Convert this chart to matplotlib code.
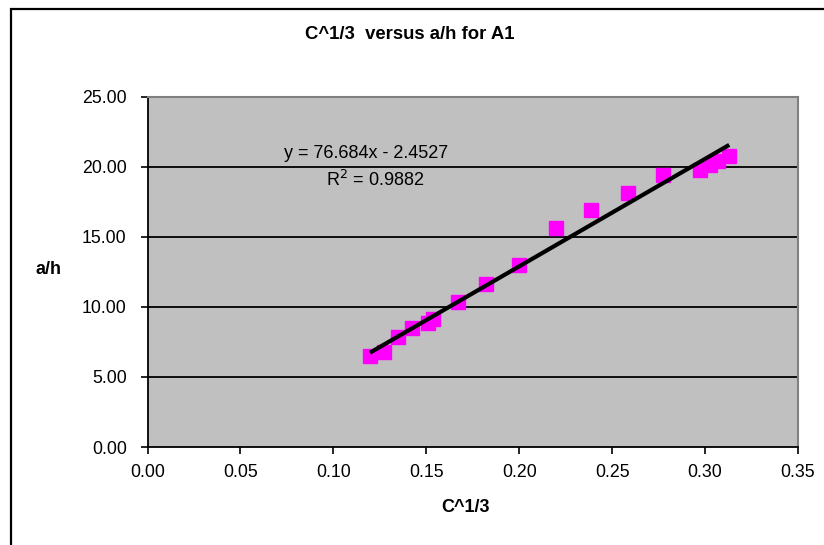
import matplotlib
matplotlib.use("Agg")
import matplotlib.pyplot as plt
from matplotlib.patches import Rectangle

# Measured series: cube root of concentration vs. a/h for sample A1
c_cuberoot = [0.1197, 0.1273, 0.1347, 0.1422, 0.1508, 0.1535, 0.1673, 0.1823,
              0.1999, 0.2198, 0.2384, 0.2585, 0.2774, 0.2973, 0.3025, 0.3067, 0.3130]
a_over_h = [6.50, 6.81, 7.83, 8.48, 8.83, 9.14, 10.31, 11.64,
            12.95, 15.62, 16.93, 18.10, 19.43, 19.74, 20.14, 20.38, 20.74]

# Linear trendline reported for the series
slope = 76.684
intercept = -2.4527
r_squared = 0.9882

x_ticks = [0.00, 0.05, 0.10, 0.15, 0.20, 0.25, 0.30, 0.35]
y_ticks = [0.00, 5.00, 10.00, 15.00, 20.00, 25.00]

plt.rcParams['font.family'] = ['Liberation Sans', 'DejaVu Sans']

W, H = 824, 545
fig = plt.figure(figsize=(W / 100, H / 100), dpi=100)
fig.patch.set_facecolor('white')

# Chart frame (runs off the right and bottom edges)
fig.patches.append(Rectangle((11 / W, -0.2), 1.5, (H - 9) / H + 0.2,
                             transform=fig.transFigure, fill=False,
                             edgecolor='black', linewidth=1.6, clip_on=False))

left, right, top, bottom = 147.5, 798, 96.5, 447
ax = fig.add_axes([left / W, (H - bottom) / H, (right - left) / W, (bottom - top) / H])
ax.set_facecolor('#C0C0C0')

ax.set_xlim(0, 0.35)
ax.set_ylim(0, 25)
ax.set_xticks(x_ticks)
ax.set_yticks(y_ticks)
ax.set_xticklabels([f"{v:.2f}" for v in x_ticks])
ax.set_yticklabels([f"{v:.2f}" for v in y_ticks])

for y in y_ticks[1:-1]:
    ax.axhline(y, color='black', linewidth=1.3, zorder=1)

for side in ('top', 'right'):
    ax.spines[side].set_color('#808080')
    ax.spines[side].set_linewidth(1.5)
for side in ('left', 'bottom'):
    ax.spines[side].set_color('black')
    ax.spines[side].set_linewidth(1.3)

ax.tick_params(axis='both', direction='out', length=5, width=1.2,
               color='black', labelsize=12.8)
ax.tick_params(axis='y', pad=10)
ax.tick_params(axis='x', pad=7.5)

ax.plot(c_cuberoot, a_over_h, linestyle='none', marker='s', markersize=9.6,
        markerfacecolor='#FF00FF', markeredgecolor='#FF00FF', zorder=3)

x0, x1 = min(c_cuberoot), max(c_cuberoot)
ax.plot([x0, x1], [slope * x0 + intercept, slope * x1 + intercept],
        color='black', linewidth=3.0, zorder=4, solid_capstyle='butt')

fig.text(366 / W, 1 - 153 / H, f"y = {slope}x - {abs(intercept)}",
         ha='center', va='center', fontsize=13)
fig.text(375 / W, 1 - 180 / H, f"R$^2$ = {r_squared}",
         ha='center', va='center', fontsize=13)

fig.text(410 / W, 1 - 34.5 / H, "C^1/3  versus a/h for A1",
         ha='center', va='center', fontsize=13.3, fontweight='bold')
fig.text(49 / W, 1 - 270 / H, "a/h", ha='center', va='center',
         fontsize=13, fontweight='bold')
fig.text(465 / W, 1 - 508 / H, "C^1/3", ha='center', va='center',
         fontsize=13, fontweight='bold')

fig.savefig("out.png", dpi=100)
